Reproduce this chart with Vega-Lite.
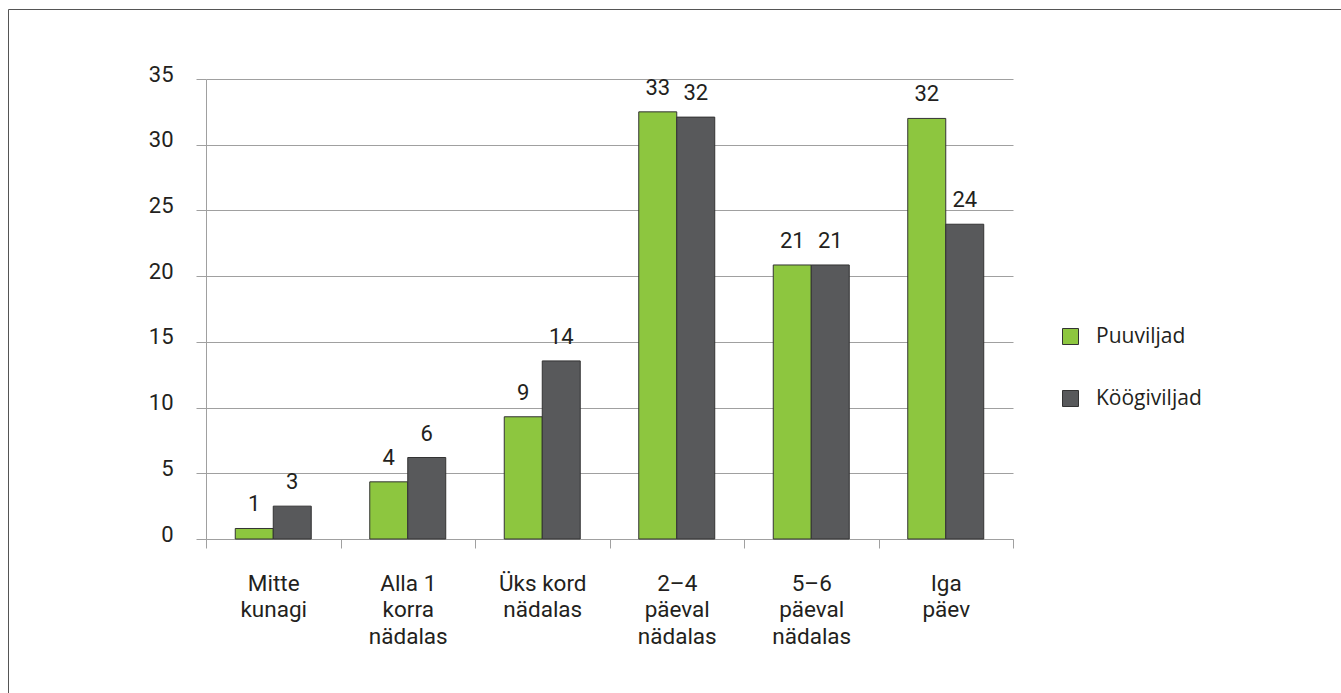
{
  "$schema": "https://vega.github.io/schema/vega-lite/v6.json",
  "autosize": {"type": "none"},
  "padding": {"left": 8, "top": 9, "right": 0, "bottom": 0},
  "width": 1345,
  "height": 700,
  "background": "white",
  "config": {
    "view": {"stroke": "#555555", "strokeWidth": 1},
    "font": "Roboto"
  },
  "data": {
    "values": [
      {"kategooria": "Mitte\nkunagi", "seeria": "Puuviljad", "vaartus": 0.8, "silt": "1"},
      {"kategooria": "Mitte\nkunagi", "seeria": "Köögiviljad", "vaartus": 2.5, "silt": "3"},
      {"kategooria": "Alla 1\nkorra\nnädalas", "seeria": "Puuviljad", "vaartus": 4.35, "silt": "4"},
      {"kategooria": "Alla 1\nkorra\nnädalas", "seeria": "Köögiviljad", "vaartus": 6.2, "silt": "6"},
      {"kategooria": "Üks kord\nnädalas", "seeria": "Puuviljad", "vaartus": 9.3, "silt": "9"},
      {"kategooria": "Üks kord\nnädalas", "seeria": "Köögiviljad", "vaartus": 13.55, "silt": "14"},
      {"kategooria": "2–4\npäeval\nnädalas", "seeria": "Puuviljad", "vaartus": 32.5, "silt": "33"},
      {"kategooria": "2–4\npäeval\nnädalas", "seeria": "Köögiviljad", "vaartus": 32.1, "silt": "32"},
      {"kategooria": "5–6\npäeval\nnädalas", "seeria": "Puuviljad", "vaartus": 20.85, "silt": "21"},
      {"kategooria": "5–6\npäeval\nnädalas", "seeria": "Köögiviljad", "vaartus": 20.85, "silt": "21"},
      {"kategooria": "Iga\npäev", "seeria": "Puuviljad", "vaartus": 32.0, "silt": "32"},
      {"kategooria": "Iga\npäev", "seeria": "Köögiviljad", "vaartus": 23.95, "silt": "24"}
    ]
  },
  "encoding": {
    "x": {
      "field": "kategooria",
      "type": "nominal",
      "sort": null,
      "scale": {"range": [198, 1005], "paddingInner": 0, "paddingOuter": 0},
      "axis": {
        "title": null,
        "offset": -170,
        "labelAngle": 0,
        "labelExpr": "isValid(datum.value) ? split(datum.value, '\\n') : ''",
        "labelFont": "Roboto",
        "labelFontSize": 22.5,
        "labelColor": "#231F20",
        "labelLineHeight": 26.7,
        "labelPadding": 24,
        "labelBaseline": "top",
        "domainColor": "#A0A0A0",
        "tickColor": "#A0A0A0",
        "tickSize": 9,
        "tickBand": "extent",
        "grid": false
      }
    },
    "xOffset": {
      "field": "seeria",
      "type": "nominal",
      "sort": ["Puuviljad", "Köögiviljad"],
      "scale": {"paddingInner": 0, "paddingOuter": 0.77}
    },
    "y": {
      "field": "vaartus",
      "type": "quantitative",
      "scale": {"domain": [0, 35], "range": [530, 70], "nice": false, "zero": true},
      "axis": {
        "title": null,
        "offset": -198,
        "values": [0, 5, 10, 15, 20, 25, 30, 35],
        "grid": true,
        "gridColor": "#A0A0A0",
        "gridWidth": 1,
        "domainColor": "#A0A0A0",
        "tickColor": "#A0A0A0",
        "tickSize": 10,
        "labelPadding": 23,
        "labelFont": "Roboto",
        "labelFontSize": 22,
        "labelColor": "#231F20",
        "labelBaseline": "alphabetic",
        "labelOffset": 2
      }
    }
  },
  "layer": [
    {
      "mark": {"type": "bar", "stroke": "#333333", "strokeWidth": 1},
      "encoding": {
        "color": {
          "field": "seeria",
          "type": "nominal",
          "sort": ["Puuviljad", "Köögiviljad"],
          "scale": {"domain": ["Puuviljad", "Köögiviljad"], "range": ["#8DC63F", "#58595B"]},
          "legend": {
            "orient": "none",
            "legendX": 1052,
            "legendY": 317,
            "title": null,
            "symbolType": "square",
            "symbolSize": 256,
            "symbolStrokeColor": "#333333",
            "symbolStrokeWidth": 1,
            "labelFont": "Open Sans",
            "labelFontSize": 21,
            "labelColor": "#231F20",
            "labelOffset": 15,
            "rowPadding": 40
          }
        }
      }
    },
    {
      "mark": {"type": "text", "baseline": "alphabetic", "dy": -17, "fontSize": 22, "font": "Roboto", "color": "#231F20"},
      "encoding": {
        "text": {"field": "silt"}
      }
    }
  ]
}
